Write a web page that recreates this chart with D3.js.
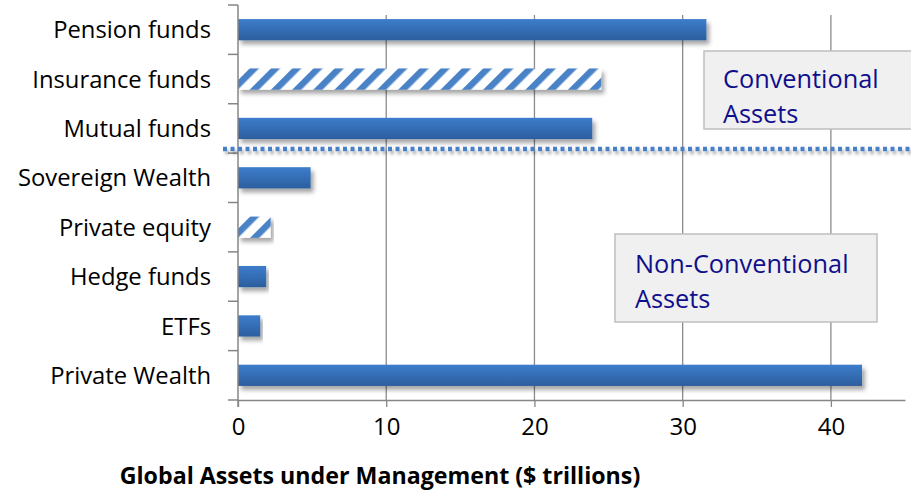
<!DOCTYPE html>
<html><head><meta charset="utf-8">
<script src="https://cdn.jsdelivr.net/npm/d3@7"></script>
<style>body{margin:0;background:#fff}</style>
</head><body>
<svg id="c" width="911" height="492"></svg>
<script>
const categories = ["Pension funds","Insurance funds","Mutual funds","Sovereign Wealth","Private equity","Hedge funds","ETFs","Private Wealth"];
const values = [31.6, 24.5, 23.9, 4.9, 2.2, 1.9, 1.5, 42.1];
const hatched = [false, true, false, false, true, false, false, false];
const xTicks = [0, 10, 20, 30, 40];
const boxLabels = [["Conventional","Assets"],["Non-Conventional","Assets"]];

const svg = d3.select("#c");
const font = "'Open Sans', sans-serif";
const x = d3.scaleLinear().domain([0,45]).range([238,905]);
const y = d3.scaleBand().domain(categories).range([5,400]).paddingInner(0.57).paddingOuter(0.285);

const defs = svg.append("defs");
const g = defs.append("linearGradient").attr("id","bg").attr("x1",0).attr("y1",0).attr("x2",0).attr("y2",1);
g.append("stop").attr("offset","0").attr("stop-color","#3d7dcc");
g.append("stop").attr("offset","1").attr("stop-color","#2c5e9e");
const pat = defs.append("pattern").attr("id","hatch").attr("patternUnits","userSpaceOnUse")
  .attr("width",15).attr("height",15).attr("patternTransform","rotate(45)");
pat.append("rect").attr("width",15).attr("height",15).attr("fill","#fff");
pat.append("rect").attr("x",0).attr("width",6.5).attr("height",15).attr("fill","#4a82c6");
const f = defs.append("filter").attr("id","sh").attr("x","-5%").attr("y","-50%").attr("width","115%").attr("height","220%");
f.append("feDropShadow").attr("dx",3).attr("dy",4).attr("stdDeviation",2.2).attr("flood-color","#000").attr("flood-opacity",0.35);
const f2 = defs.append("filter").attr("id","sh2").attr("filterUnits","userSpaceOnUse")
  .attr("x",200).attr("y",130).attr("width",720).attr("height",40);
f2.append("feDropShadow").attr("dx",2).attr("dy",3).attr("stdDeviation",1.5).attr("flood-color","#000").attr("flood-opacity",0.3);

// gridlines
svg.append("g").selectAll("line").data(xTicks.filter(d=>d>0)).join("line")
  .attr("x1",d=>x(d)).attr("x2",d=>x(d)).attr("y1",15).attr("y2",400)
  .attr("stroke","#8c8c8c").attr("stroke-width",1.3);

// bars
svg.append("g").selectAll("rect").data(categories).join("rect")
  .attr("x",x(0)).attr("y",d=>y(d)).attr("height",y.bandwidth())
  .attr("width",(d,i)=>x(values[i])-x(0))
  .attr("fill",(d,i)=>hatched[i]?"url(#hatch)":"url(#bg)")
  .attr("filter","url(#sh)");

// axes
const xAxis = svg.append("g").attr("transform","translate(0,400)")
  .call(d3.axisBottom(x).tickValues(xTicks).tickSize(7).tickPadding(11).tickSizeOuter(0));
xAxis.select(".domain").attr("stroke","#868686").attr("stroke-width",1.5);
xAxis.selectAll(".tick line").attr("stroke","#868686").attr("stroke-width",1.3);
xAxis.selectAll("text").attr("font-family",font).attr("font-size",24).attr("fill","#000");

const bounds = d3.range(categories.length+1).map(i=>5+i*(395/categories.length));
svg.append("line").attr("x1",238).attr("x2",238).attr("y1",5).attr("y2",407)
  .attr("stroke","#868686").attr("stroke-width",1.5);
svg.append("g").selectAll("line").data(bounds).join("line")
  .attr("x1",228).attr("x2",238).attr("y1",d=>d).attr("y2",d=>d)
  .attr("stroke","#868686").attr("stroke-width",1.5);
svg.append("g").selectAll("text").data(categories).join("text")
  .attr("x",211).attr("y",d=>y(d)+y.bandwidth()/2).attr("dy","0.36em")
  .attr("text-anchor","end").attr("font-family",font).attr("font-size",23.8).attr("fill","#000")
  .text(d=>d);

// axis title
svg.append("text").attr("x",380).attr("y",484).attr("text-anchor","middle")
  .attr("font-family",font).attr("font-weight","bold").attr("font-size",23.2).attr("fill","#000")
  .text("Global Assets under Management ($ trillions)");

// separator
svg.append("line").attr("x1",223).attr("x2",911).attr("y1",149).attr("y2",149)
  .attr("stroke","#4a7fc4").attr("stroke-width",4.5).attr("stroke-dasharray","4,3.5")
  .attr("filter","url(#sh2)");

// label boxes
const boxes = [{x0:704,y0:51,w:215,h:78,tx:723,ty:88},{x0:615,y0:234,w:262,h:88,tx:635,ty:273}];
boxes.forEach((b,i)=>{
  svg.append("rect").attr("x",b.x0).attr("y",b.y0).attr("width",b.w).attr("height",b.h)
    .attr("fill","#f0f0f0").attr("stroke","#bfbfbf").attr("stroke-width",1.5);
  boxLabels[i].forEach((t,j)=>svg.append("text").attr("x",b.tx).attr("y",b.ty+j*35)
    .attr("font-family",font).attr("font-size",25.3).attr("fill","#0f0f8c").text(t));
});
</script>
</body></html>
